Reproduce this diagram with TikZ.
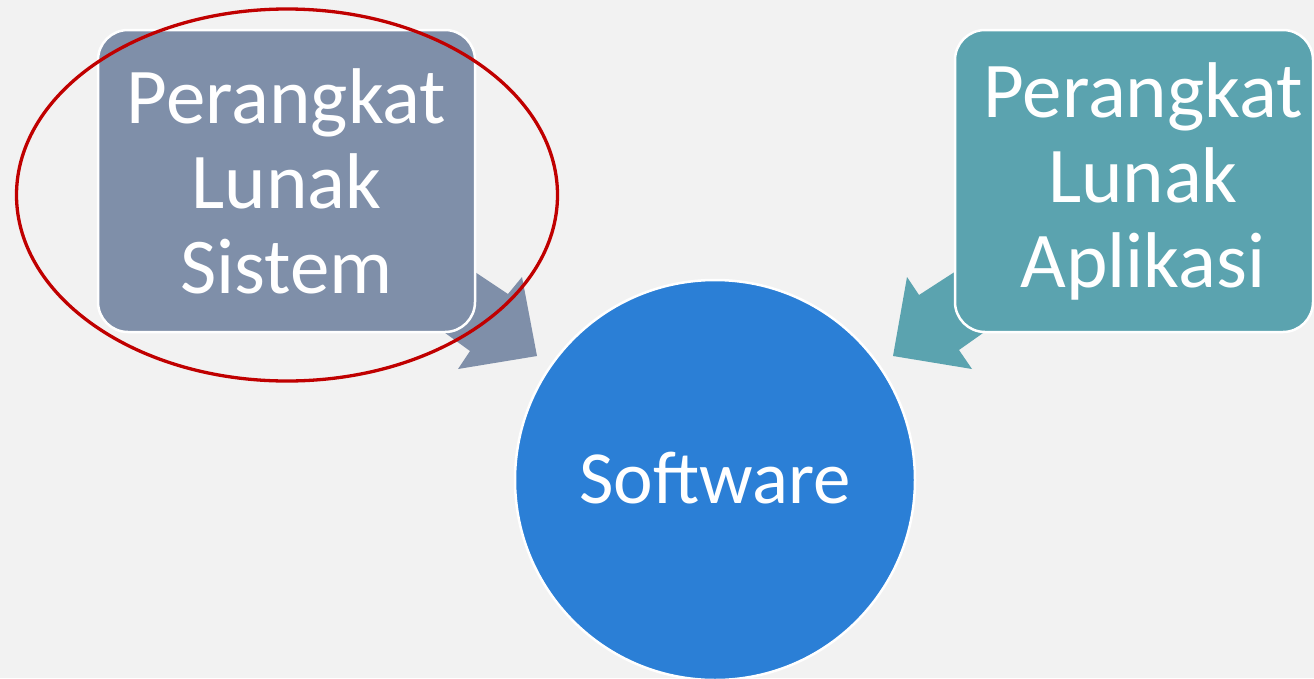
\documentclass[tikz,border=0pt]{standalone}
\usepackage{fontspec}
\setmainfont{Carlito}
\definecolor{bg}{HTML}{F2F2F2}
\definecolor{boxgrey}{HTML}{7F8FA9}
\definecolor{boxteal}{HTML}{5BA3AF}
\definecolor{circblue}{HTML}{2B7FD6}
\definecolor{ringred}{HTML}{C00000}
\begin{document}
\begin{tikzpicture}[x=1pt,y=-1pt,
  boxstyle/.style={draw=white,line width=2.5pt,rounded corners=30pt},
  txt/.style={text=white,font=\fontsize{79}{85}\selectfont,align=center,inner sep=0pt}]
\path[fill=bg] (0,0) rectangle (1314,678);
\useasboundingbox (0,0) rectangle (1314,678);
% arrows (behind boxes)
\coordinate (lt) at (537,356);
\fill[boxgrey] (445,300) -- (460,262) -- (508,294) -- (522,277) -- (lt) -- (458,369) -- (470,351) -- (430,322) -- cycle;
\coordinate (rt) at (893,356);
\fill[boxteal] (985,290) -- (1000,321) -- (959,350) -- (972,369) -- (rt) -- (907,277) -- (919,295) -- (970,262) -- cycle;
% boxes
\path[boxstyle,fill=boxgrey] (98,30) rectangle (475,332);
\path[boxstyle,fill=boxteal] (955,30) rectangle (1313,332);
\node[txt] (sys) at (286.5,181) {Perangkat\\Lunak\\Sistem};
\node[txt] (app) at (1143,181) {Perangkat\\Lunak\\Aplikasi};
% circle
\node[circle,draw=white,line width=2.5pt,fill=circblue,minimum size=400pt,inner sep=0pt] (sw) at (715,480) {};
\node[txt,font=\fontsize{75}{85}\selectfont] (swt) at (715,478) {Software};
% red ellipse
\draw[ringred,line width=3.3pt] (287,195) ellipse [x radius=270.5pt,y radius=186pt];
\end{tikzpicture}
\end{document}
